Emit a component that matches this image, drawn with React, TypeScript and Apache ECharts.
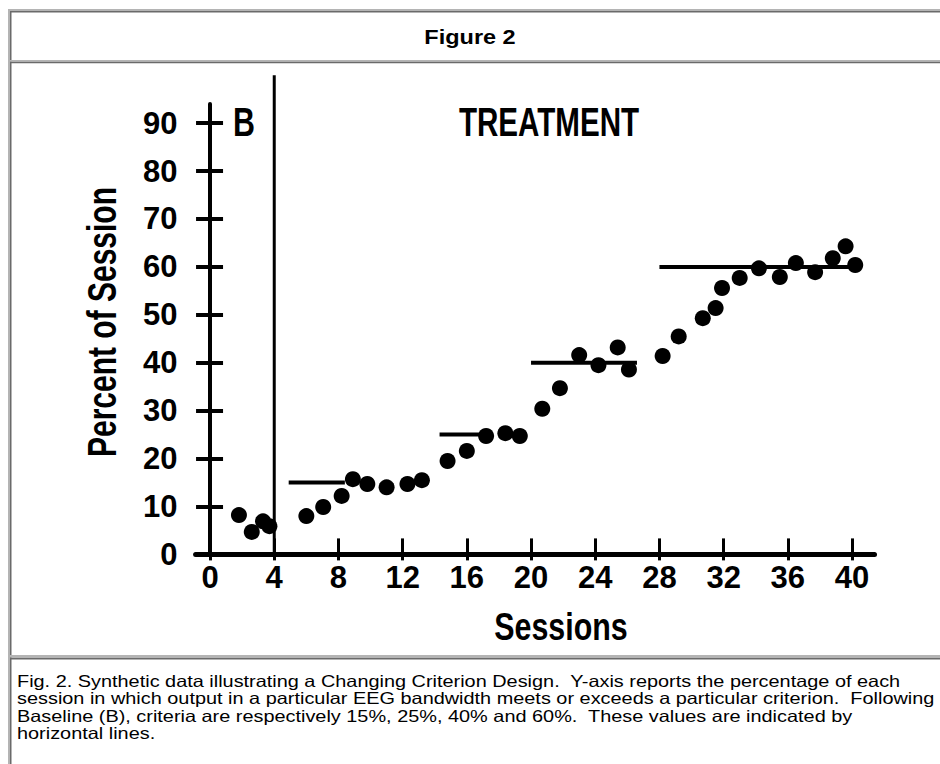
import React, { useEffect, useRef } from "react";
import * as echarts from "echarts";

// ---- data ----
const xTicks = [0, 4, 8, 12, 16, 20, 24, 28, 32, 36, 40];
const yTicks = [0, 10, 20, 30, 40, 50, 60, 70, 80, 90];

const baselineSessions = [1.8, 2.6, 3.3, 3.7];
const baselinePercent = [8.2, 4.7, 6.9, 5.9];

const treatmentSessions = [
  6.0, 7.05, 8.2, 8.9, 9.8, 11.0, 12.3, 13.2,
  14.8, 16.0, 17.2, 18.4, 19.3,
  20.7, 21.8, 23.0, 24.2, 25.4, 26.1,
  28.2, 29.2, 30.7, 31.5, 31.9, 33.0, 34.2, 35.5, 36.5, 37.7, 38.8, 39.6, 40.2,
];
const treatmentPercent = [
  8.0, 9.9, 12.2, 15.7, 14.7, 14.0, 14.7, 15.5,
  19.5, 21.6, 24.7, 25.3, 24.7,
  30.4, 34.7, 41.6, 39.5, 43.2, 38.6,
  41.4, 45.5, 49.3, 51.4, 55.6, 57.7, 59.7, 57.9, 60.8, 58.9, 61.8, 64.3, 60.4,
];

const criterionValues = [15, 25, 40, 60];
const criterionStarts = [4.9, 14.3, 20.0, 28.0];
const criterionEnds = [8.4, 17.3, 26.6, 40.0];

const phaseChangeSession = 4;
const phaseLineTop = 100;

const figureTitle = "Figure 2";
const yAxisTitle = "Percent of Session";
const xAxisTitle = "Sessions";
const baselineLabel = "B";
const treatmentLabel = "TREATMENT";
const captionLines = [
  "Fig. 2. Synthetic data illustrating a Changing Criterion Design.  Y-axis reports the percentage of each",
  "session in which output in a particular EEG bandwidth meets or exceeds a particular criterion.  Following",
  "Baseline (B), criteria are respectively 15%, 25%, 40% and 60%.  These values are indicated by",
  "horizontal lines.",
];

const LIGHT = "#b4b4b4";
const DARK = "#6a6a6a";
const SANS = "'Liberation Sans', Arial, Helvetica, sans-serif";
const NARROW = "'Liberation Sans Narrow', 'Arial Narrow', 'Liberation Sans', Arial, sans-serif";

export default function App() {
  const ref = useRef<HTMLDivElement>(null);

  useEffect(() => {
    if (!ref.current) return;
    const chart = echarts.init(ref.current, null, { renderer: "svg" });

    const borderRect = (x: number, y: number, w: number, h: number, c: string) => ({
      type: "rect",
      shape: { x, y, width: w, height: h },
      style: { fill: c },
      silent: true,
      z: 1,
    });

    const criterionSeries = criterionValues.map((v, i) => ({
      type: "line",
      name: "criterion " + v,
      data: [
        [criterionStarts[i], v],
        [criterionEnds[i], v],
      ],
      symbol: "none",
      lineStyle: { color: "#000", width: 4, opacity: 1 },
      z: 3,
    }));

    const tickLabelStyle = {
      color: "#000",
      fontFamily: NARROW,
      fontWeight: "bold",
      fontSize: 31,
    };

    const option: any = {
      animation: false,
      backgroundColor: "#fff",
      grid: {
        left: 195.6,
        top: 104,
        width: 678.9,
        height: 450.4,
        containLabel: false,
        outerBoundsMode: "none",
      },
      xAxis: [
        {
          type: "value",
          min: -0.9,
          max: 41.4,
          position: "bottom",
          axisLine: { show: true, onZero: true, lineStyle: { color: "#000", width: 5 } },
          axisTick: {
            show: true,
            inside: true,
            length: 16,
            customValues: xTicks,
            lineStyle: { color: "#000", width: 3 },
          },
          axisLabel: { ...tickLabelStyle, margin: 8, customValues: xTicks },
          splitLine: { show: false },
        },
        {
          type: "value",
          min: -0.9,
          max: 41.4,
          position: "bottom",
          axisLine: { show: false, onZero: true },
          axisTick: {
            show: true,
            inside: false,
            length: 6,
            customValues: xTicks,
            lineStyle: { color: "#000", width: 3 },
          },
          axisLabel: { show: false },
          splitLine: { show: false },
        },
      ],
      yAxis: [
        {
          type: "value",
          min: 0,
          max: 94,
          position: "left",
          axisLine: { show: true, onZero: true, lineStyle: { color: "#000", width: 4 } },
          axisTick: {
            show: true,
            inside: false,
            length: 14,
            customValues: yTicks,
            lineStyle: { color: "#000", width: 4 },
          },
          axisLabel: { ...tickLabelStyle, margin: 18, customValues: yTicks },
          splitLine: { show: false },
        },
        {
          type: "value",
          min: 0,
          max: 94,
          position: "left",
          axisLine: { show: false, onZero: true },
          axisTick: {
            show: true,
            inside: true,
            length: 13,
            customValues: yTicks,
            lineStyle: { color: "#000", width: 4 },
          },
          axisLabel: { show: false },
          splitLine: { show: false },
        },
      ],
      series: [
        {
          type: "line",
          name: "phase change",
          data: [
            [phaseChangeSession, 0],
            [phaseChangeSession, phaseLineTop],
          ],
          symbol: "none",
          clip: false,
          lineStyle: { color: "#000", width: 3, opacity: 1 },
          z: 2,
        },
        ...criterionSeries,
        {
          type: "scatter",
          name: "Baseline",
          data: baselineSessions.map((s, i) => [s, baselinePercent[i]]),
          symbol: "circle",
          symbolSize: 16,
          itemStyle: { color: "#000", opacity: 1 },
          z: 4,
        },
        {
          type: "scatter",
          name: "Treatment",
          data: treatmentSessions.map((s, i) => [s, treatmentPercent[i]]),
          symbol: "circle",
          symbolSize: 16,
          itemStyle: { color: "#000", opacity: 1 },
          z: 4,
        },
      ],
      graphic: [
        // table borders
        borderRect(8, 9, 932, 2, LIGHT),
        borderRect(8, 9, 2, 755, LIGHT),
        borderRect(10, 11, 930, 1.5, DARK),
        borderRect(10, 11, 1.5, 49, DARK),
        borderRect(10, 60, 930, 1.7, LIGHT),
        borderRect(10, 61.7, 930, 1.6, DARK),
        borderRect(10, 61.7, 1.5, 594, DARK),
        borderRect(10, 655, 930, 2, LIGHT),
        borderRect(10, 657.5, 930, 2, DARK),
        borderRect(10, 657.5, 1.5, 107, DARK),
        // figure title
        {
          type: "text",
          x: 470,
          y: 37,
          scaleY: 0.85,
          style: {
            text: figureTitle,
            fontFamily: SANS,
            fontWeight: "bold",
            fontSize: 23.5,
            fill: "#000",
            align: "center",
            verticalAlign: "middle",
          },
          z: 5,
        },
        // phase labels
        {
          type: "text",
          x: 244,
          y: 122,
          scaleX: 0.76,
          style: {
            text: baselineLabel,
            fontFamily: SANS,
            fontWeight: "bold",
            fontSize: 40,
            fill: "#000",
            align: "center",
            verticalAlign: "middle",
          },
          z: 5,
        },
        {
          type: "text",
          x: 549,
          y: 122,
          scaleX: 0.74,
          style: {
            text: treatmentLabel,
            fontFamily: SANS,
            fontWeight: "bold",
            fontSize: 40,
            fill: "#000",
            align: "center",
            verticalAlign: "middle",
          },
          z: 5,
        },
        // axis titles
        {
          type: "text",
          x: 102,
          y: 322,
          rotation: Math.PI / 2,
          scaleX: 0.75,
          style: {
            text: yAxisTitle,
            fontFamily: SANS,
            fontWeight: "bold",
            fontSize: 40,
            fill: "#000",
            align: "center",
            verticalAlign: "middle",
          },
          z: 5,
        },
        {
          type: "text",
          x: 561,
          y: 627,
          scaleX: 0.8,
          style: {
            text: xAxisTitle,
            fontFamily: SANS,
            fontWeight: "bold",
            fontSize: 38,
            fill: "#000",
            align: "center",
            verticalAlign: "middle",
          },
          z: 5,
        },
        // caption
        ...captionLines.map((line, i) => ({
          type: "text",
          x: 17,
          y: 681 + i * 17.3,
          scaleY: 0.85,
          style: {
            text: line,
            fontFamily: SANS,
            fontSize: 19.9,
            fill: "#000",
            align: "left",
            verticalAlign: "middle",
          },
          z: 5,
        })),
      ],
    };

    chart.setOption(option);
    return () => chart.dispose();
  }, []);

  return (
    <div
      ref={ref}
      style={{ position: "fixed", left: 0, top: 0, width: 940, height: 764, background: "#fff" }}
    />
  );
}
